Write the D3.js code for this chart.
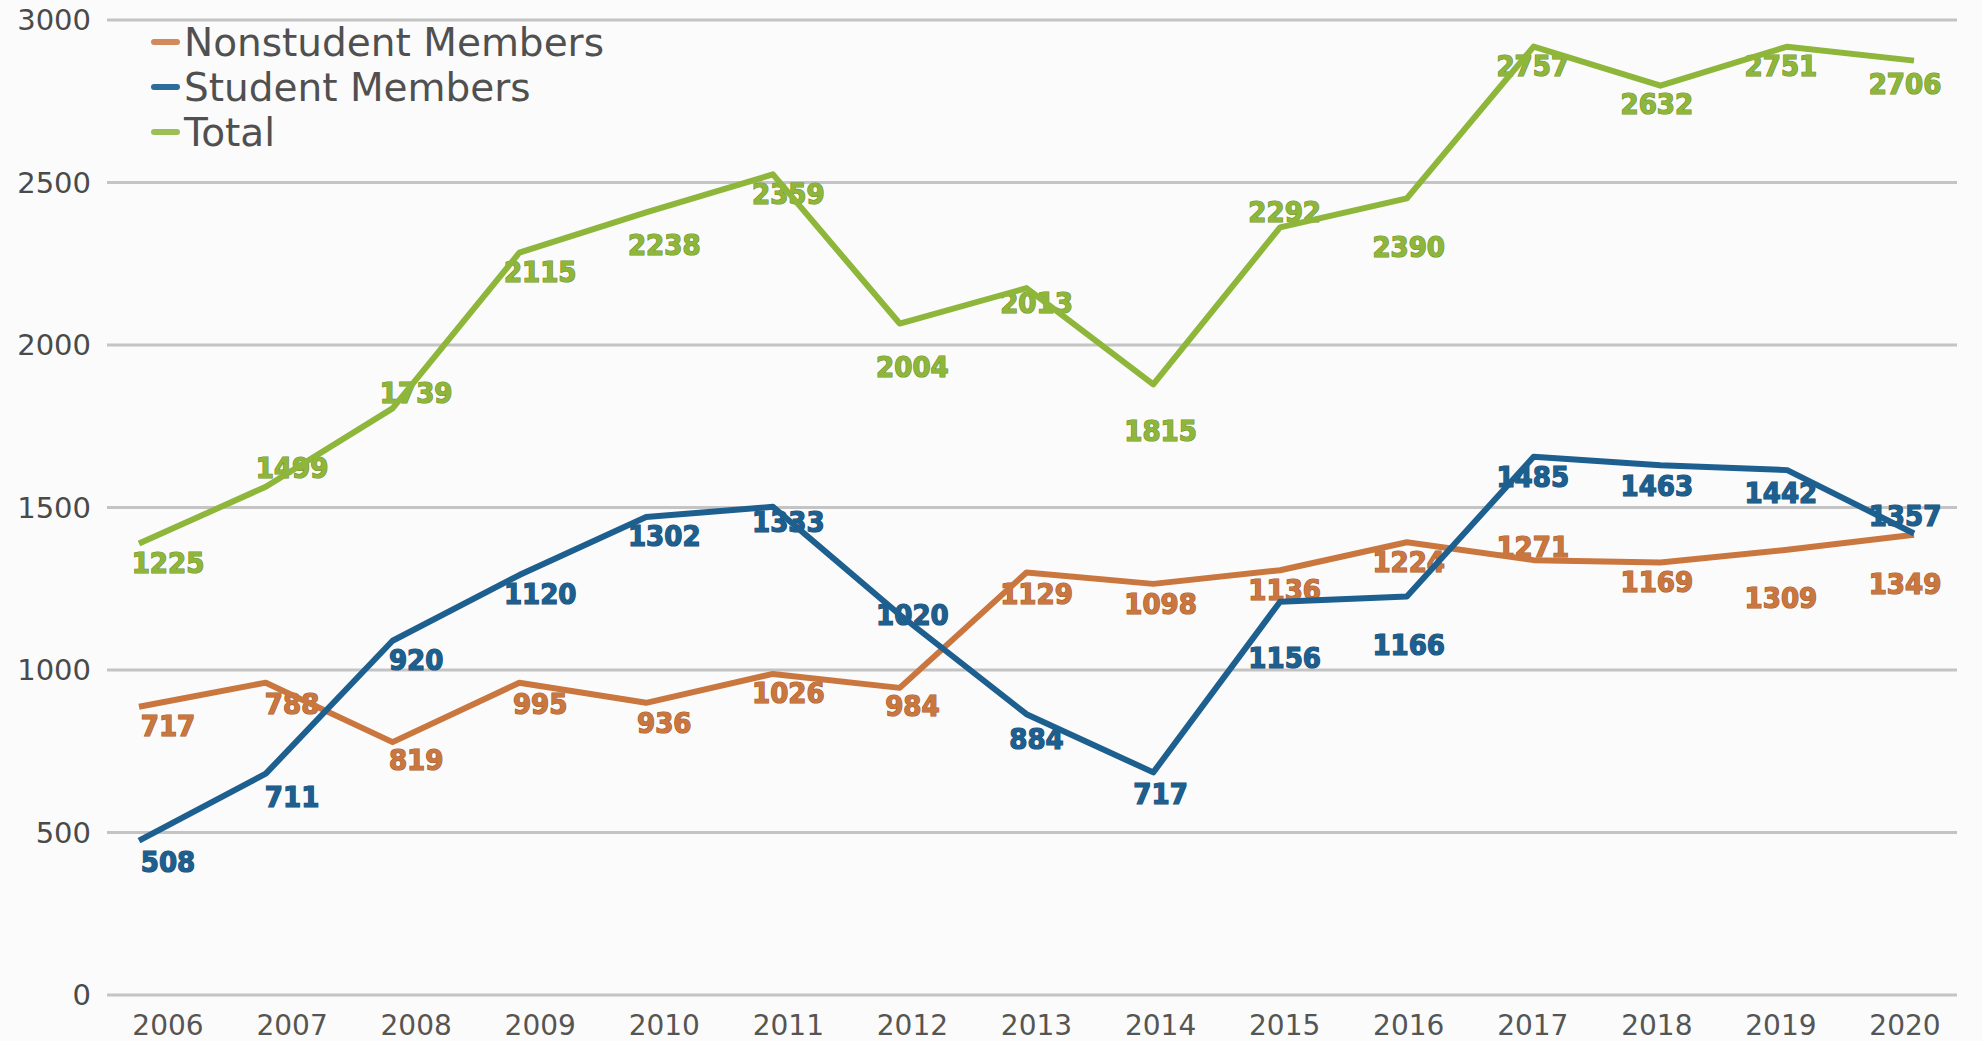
<!DOCTYPE html>
<html>
<head>
<meta charset="utf-8">
<script src="https://cdn.jsdelivr.net/npm/d3@7"></script>
<style>
  body { margin: 0; background: #fbfbfb; }
  .grid line { stroke: #c4c4c4; stroke-width: 3; }
  .axisText { font-family: "DejaVu Sans", sans-serif; font-size: 29px; fill: #4a4a4a; }
  .xText { font-size: 28px; font-weight: 500; fill: #555; }
  .legendText { font-family: "DejaVu Sans", sans-serif; font-size: 39px; fill: #505050; }
  .valText { font-family: "DejaVu Sans Condensed", "DejaVu Sans", sans-serif; font-stretch: condensed;
             font-weight: bold; font-size: 29px; stroke-width: 1.2; paint-order: stroke; }
</style>
</head>
<body>
<div id="chart"></div>
<script>
// data
var years = ["2006","2007","2008","2009","2010","2011","2012","2013","2014","2015","2016","2017","2018","2019","2020"];

// where the lines are drawn
var nonstudent = [887, 961, 778, 961, 899, 988, 945, 1300, 1265, 1307, 1393, 1338, 1331, 1370, 1416];
var student    = [475, 681, 1090, 1292, 1471, 1502, 1170, 864, 685, 1210, 1226, 1656, 1630, 1615, 1420];
var total      = [1389, 1564, 1805, 2284, 2408, 2525, 2066, 2175, 1879, 2362, 2451, 2918, 2798, 2918, 2875];

// the numbers printed next to the points
var nonstudentLabels = [717, 788, 819, 995, 936, 1026, 984, 1129, 1098, 1136, 1224, 1271, 1169, 1309, 1349];
var studentLabels    = [508, 711, 920, 1120, 1302, 1333, 1020, 884, 717, 1156, 1166, 1485, 1463, 1442, 1357];
var totalLabels      = [1225, 1499, 1739, 2115, 2238, 2359, 2004, 2013, 1815, 2292, 2390, 2757, 2632, 2751, 2706];

var yTicks = [0, 500, 1000, 1500, 2000, 2500, 3000];

// label placement (px below the point, negative = above)
var nonstudentDy = [19, 21, 18, 21, 20, 19, 18, 21, 20, 20, 20, -13, 19, 48, 49];
var studentDy    = [21, 23, 19, 19, 19, 15, 0, 25, 21, 56, 48, 20, 21, 23, -18];
var totalDy      = [19, -19, -16, 19, 32, 19, 43, 15, 47, -16, 48, 19, 18, 19, 23];

var svgWidth = 1982;
var svgHeight = 1041;

var svg = d3.select("#chart")
  .append("svg")
  .attr("width", svgWidth)
  .attr("height", svgHeight);

var yScale = d3.scaleLinear().domain([0, 3000]).range([995, 20]);
var xTick = d3.scalePoint().domain(years).range([168, 1905]);
var xLine = d3.scalePoint().domain(years).range([139, 1914]);

// gridlines
svg.append("g")
  .attr("class", "grid")
  .selectAll("line")
  .data(yTicks)
  .enter()
  .append("line")
  .attr("x1", 107)
  .attr("x2", 1957)
  .attr("y1", d => yScale(d))
  .attr("y2", d => yScale(d));

// y tick labels
svg.selectAll(".yText")
  .data(yTicks)
  .enter()
  .append("text")
  .attr("class", "axisText")
  .attr("x", 91)
  .attr("y", d => yScale(d))
  .attr("dy", "0.35em")
  .attr("text-anchor", "end")
  .text(d => d);

// x tick labels
svg.selectAll(".xText")
  .data(years)
  .enter()
  .append("text")
  .attr("class", "axisText xText")
  .attr("x", d => xTick(d))
  .attr("y", 1025)
  .attr("dy", "0.35em")
  .attr("text-anchor", "middle")
  .text(d => d);

var series = [
  { name: "Nonstudent Members", values: nonstudent, labels: nonstudentLabels, dy: nonstudentDy,
    color: "#c9773f", dark: "#a65a2a", swatch: "#d08a5c" },
  { name: "Student Members", values: student, labels: studentLabels, dy: studentDy,
    color: "#1d5f8f", dark: "#174a70", swatch: "#2c6d99" },
  { name: "Total", values: total, labels: totalLabels, dy: totalDy,
    color: "#8db63a", dark: "#6e9028", swatch: "#9cbf55" }
];

// value labels (under the lines)
series.forEach(function(s) {
  svg.append("g")
    .selectAll("text")
    .data(years)
    .enter()
    .append("text")
    .attr("class", "valText")
    .attr("x", d => xTick(d))
    .attr("y", (d, i) => yScale(s.values[i]) + s.dy[i])
    .attr("dy", "0.35em")
    .attr("text-anchor", "middle")
    .attr("fill", s.color)
    .attr("stroke", s.dark)
    .text((d, i) => s.labels[i]);
});

// lines
var line = d3.line()
  .x((d, i) => xLine(years[i]))
  .y(d => yScale(d));

series.forEach(function(s) {
  svg.append("path")
    .datum(s.values)
    .attr("fill", "none")
    .attr("stroke", s.color)
    .attr("stroke-width", 6)
    .attr("stroke-linejoin", "round")
    .attr("d", line);
});

// legend
var legend = svg.append("g");
series.forEach(function(s, i) {
  var y = 42 + i * 45;
  legend.append("line")
    .attr("x1", 154).attr("x2", 177)
    .attr("y1", y).attr("y2", y)
    .attr("stroke", s.swatch)
    .attr("stroke-width", 6)
    .attr("stroke-linecap", "round");
  legend.append("text")
    .attr("class", "legendText")
    .attr("x", 184)
    .attr("y", y)
    .attr("dy", "0.36em")
    .text(s.name);
});
</script>
</body>
</html>
